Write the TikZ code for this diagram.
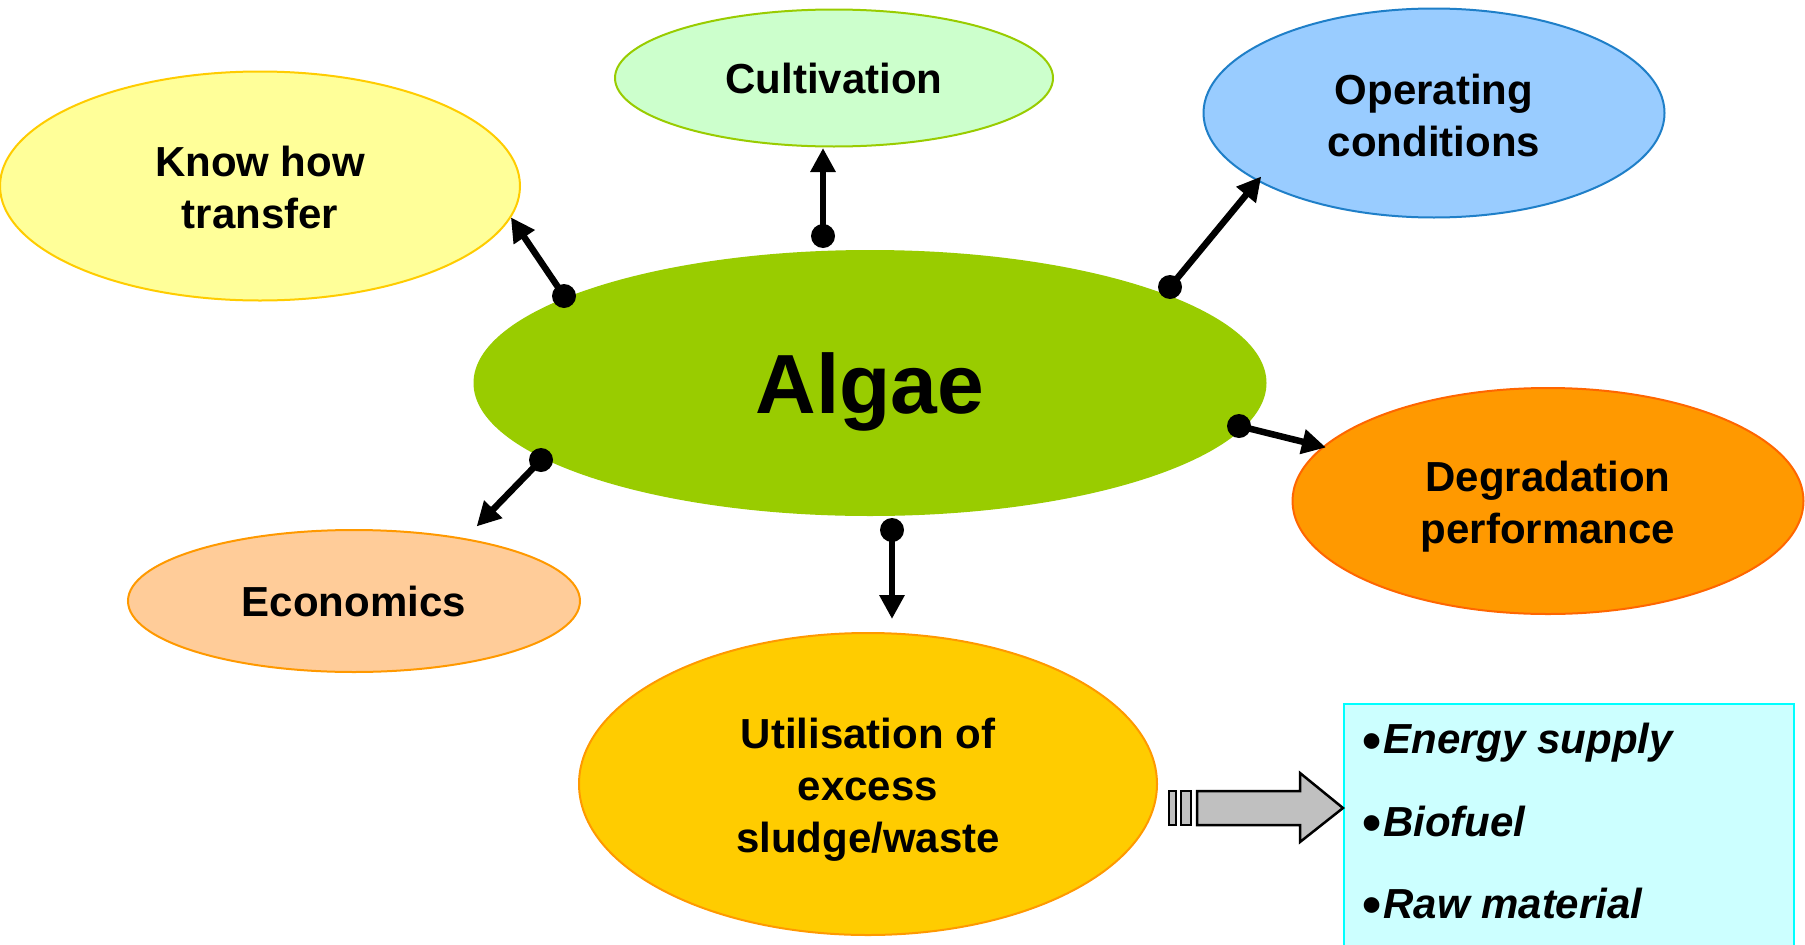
\documentclass[tikz,border=0pt]{standalone}
\usepackage{fontspec}
\setmainfont{Liberation Sans}
\usetikzlibrary{shapes.geometric,arrows.meta}
\definecolor{knowfill}{HTML}{FFFF99}
\definecolor{knowdraw}{HTML}{FFCC00}
\definecolor{cultfill}{HTML}{CCFFCC}
\definecolor{cultdraw}{HTML}{99CC00}
\definecolor{operfill}{HTML}{99CCFF}
\definecolor{operdraw}{HTML}{1F7FC8}
\definecolor{algaefill}{HTML}{99CC00}
\definecolor{degrfill}{HTML}{FF9900}
\definecolor{degrdraw}{HTML}{FF6600}
\definecolor{econfill}{HTML}{FFCC99}
\definecolor{econdraw}{HTML}{FF9900}
\definecolor{utilfill}{HTML}{FFCC00}
\definecolor{utildraw}{HTML}{FF9900}
\definecolor{boxfill}{HTML}{CCFFFF}
\definecolor{boxdraw}{HTML}{00FFFF}
\definecolor{arrfill}{HTML}{C0C0C0}
\newcommand{\bigbul}{{\upshape\raisebox{-0.13em}{\scalebox{1.3}{\textbullet}}}\hspace{2pt}}
\begin{document}
\begin{tikzpicture}[x=1pt,y=-1pt,
  topic/.style={ellipse,inner sep=0pt,line width=2pt},
  lbl/.style={inner sep=0pt,align=center,font=\fontsize{42}{52}\selectfont\bfseries},
  conn/.style={line width=6.5pt,-{Triangle[length=24pt,width=24pt]},shorten >=-2pt},
  dotc/.style={circle,fill=black,inner sep=0pt,minimum size=24pt},
  item/.style={anchor=west,inner sep=0pt,font=\fontsize{42}{51}\selectfont\bfseries\itshape}]
\clip (0,0) rectangle (1805,945);
\fill[white] (0,0) rectangle (1805,945);

\node[topic,fill=knowfill,draw=knowdraw,minimum width=520pt,minimum height=229pt] (know) at (260,186) {};
\node[lbl] (knowT) at ([yshift=-1pt]know.center) {Know how\\transfer};
\node[topic,fill=cultfill,draw=cultdraw,minimum width=438pt,minimum height=137pt] (cult) at (834,78) {};
\node[lbl] (cultT) at (cult.center) {Cultivation};
\node[topic,fill=operfill,draw=operdraw,minimum width=461pt,minimum height=209pt] (oper) at (1434,113) {};
\node[lbl] (operT) at ([yshift=-2pt]oper.center) {Operating\\conditions};
\node[topic,fill=algaefill,minimum width=793pt,minimum height=266pt] (algae) at (870,383) {};
\node[lbl,font=\fontsize{84}{90}\selectfont\bfseries] (algaeT) at ([yshift=-9pt]algae.center) {Algae};
\node[topic,fill=degrfill,draw=degrdraw,minimum width=511pt,minimum height=226pt] (degr) at (1548,501) {};
\node[lbl] (degrT) at ([yshift=-6pt]degr.center) {Degradation\\performance};
\node[topic,fill=econfill,draw=econdraw,minimum width=452pt,minimum height=142pt] (econ) at (354,601) {};
\node[lbl] (econT) at (econ.center) {Economics};
\node[topic,fill=utilfill,draw=utildraw,minimum width=578pt,minimum height=302pt] (util) at (868,784) {};
\node[lbl] (utilT) at ([yshift=-6pt]util.center) {Utilisation of\\excess\\sludge/waste};

% result box
\node[draw=boxdraw,fill=boxfill,line width=2pt,inner sep=0pt,anchor=north west,minimum width=450pt,minimum height=260pt] (box) at (1343,703) {};
\node[item] (i1) at (1362,743) {\bigbul Energy supply};
\node[item] (i2) at (1362,824) {\bigbul Biofuel};
\node[item] (i3) at (1362,906) {\bigbul Raw material};

% block arrow from util to box
\draw[fill=arrfill,line width=2.5pt] (1169,791) rectangle (1176,825);
\draw[fill=arrfill,line width=2.5pt] (1181,791) rectangle (1191,825);
\draw[fill=arrfill,line width=2.5pt,line join=miter]
  (1197,791) -- (1300,791) -- (1300,773) -- (box.west |- 0,808) -- (1300,842) -- (1300,825) -- (1197,825) -- cycle;

% connectors
\coordinate (d1) at (564,296); \coordinate (t1) at (512,219);
\coordinate (d2) at (823,236); \coordinate (t2) at (823,150);
\coordinate (d3) at (1170,287); \coordinate (t3) at (1260,178);
\coordinate (d4) at (1239,426); \coordinate (t4) at (1324,447);
\coordinate (d5) at (541,460); \coordinate (t5) at (478,525);
\coordinate (d6) at (892,530); \coordinate (t6) at (892,617);
\foreach \i in {1,...,6}{
  \draw[conn] (d\i) -- (t\i);
  \node[dotc] (dot\i) at (d\i) {};
}
\end{tikzpicture}
\end{document}
